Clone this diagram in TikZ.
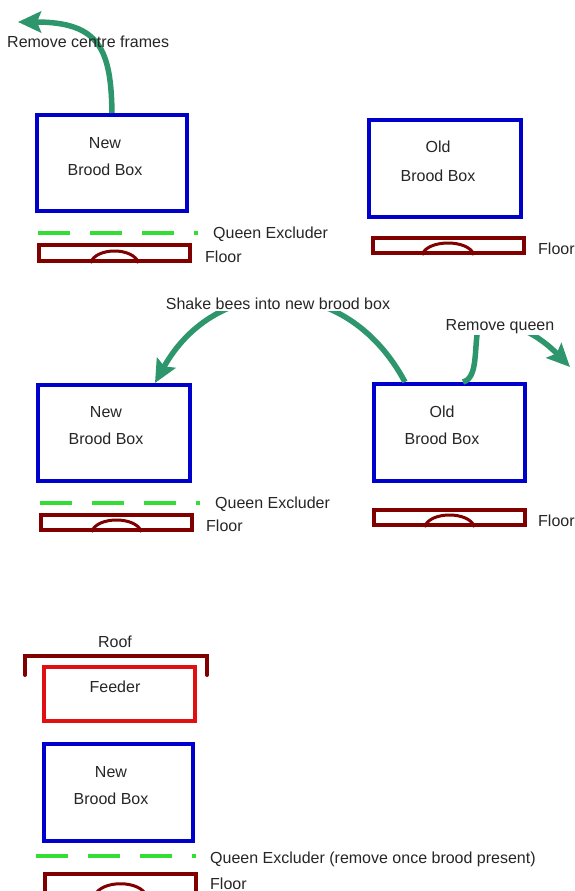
\documentclass[tikz,border=0pt]{standalone}
\usepackage{fontspec}
\setmainfont{Liberation Sans}
\usetikzlibrary{arrows.meta,calc}
\definecolor{boxblue}{RGB}{0,0,204}
\definecolor{floorred}{RGB}{128,0,0}
\definecolor{feedred}{RGB}{224,16,16}
\definecolor{qegreen}{RGB}{51,221,51}
\definecolor{arrgreen}{RGB}{46,150,108}
\begin{document}
\begin{tikzpicture}[x=1pt,y=-1pt,
  lbl/.style={font=\fontsize{16}{19}\selectfont, inner sep=0pt, text=black!85},
  whitelbl/.style={lbl, fill=white, inner sep=2pt},
  broodbox/.style={draw=boxblue, line width=4pt, inner sep=0pt},
  feederbox/.style={draw=feedred, line width=4pt, inner sep=0pt},
  floorbox/.style={draw=floorred, line width=4pt, inner sep=0pt, minimum width=151pt, minimum height=16pt},
  archline/.style={draw=floorred, line width=3pt},
  roofline/.style={draw=floorred, line width=4pt, line cap=round},
  qeline/.style={draw=qegreen, line width=4pt, dash pattern=on 32pt off 20pt},
  arr/.style={draw=arrgreen, line width=5.5pt, -{Stealth[length=23pt,width=21pt,inset=4pt]}},
]
\useasboundingbox (0,0) rectangle (575,891);
\fill[white] (0,0) rectangle (575,891);

% ---------- Section 1 ----------
\node[broodbox, minimum width=150pt, minimum height=96pt] (b1new) at (112,163) {};
\node[broodbox, minimum width=152pt, minimum height=97pt] (b1old) at (445,168.5) {};
\node[floorbox, minimum height=16pt] (f1new) at (114.5,253) {};
\node[floorbox, minimum height=15pt] (f1old) at (448,245.5) {};
\draw[archline] ($(f1new.south)+(-24,0)$) .. controls +(5,-16) and +(-5,-16) .. ++(48,0);
\draw[archline] ($(f1old.south)+(-26,0)$) .. controls +(5,-16) and +(-5,-16) .. ++(52,0);
\draw[qeline] (38,233) -- (198,233);

\coordinate (rcf) at (18,22);
\draw[arr] (b1new.north) .. controls (111,50) and (100,22) .. (rcf);
\node[lbl, anchor=base west] (t1rm) at (7,48) {Remove centre frames};

\node[lbl, anchor=base] (t1new) at (105,148) {New};
\node[lbl, anchor=base] (t1nbb) at (105,175) {Brood Box};
\node[lbl, anchor=base] (t1old) at (438,152) {Old};
\node[lbl, anchor=base] (t1obb) at (438,181) {Brood Box};
\node[lbl, anchor=base west] (t1qe) at (213,238) {Queen Excluder};
\node[lbl, anchor=base west] (t1fl) at (205,262) {Floor};
\node[lbl, anchor=base west] (t1flo) at (538,254) {Floor};

% ---------- Section 2 ----------
\node[broodbox, minimum width=152pt, minimum height=96pt] (b2new) at (114,433) {};
\node[broodbox, minimum width=151pt, minimum height=97pt] (b2old) at (449.5,432.5) {};
\node[floorbox, minimum height=15pt] (f2new) at (116.5,522.5) {};
\node[floorbox, minimum height=15pt] (f2old) at (449.5,517.5) {};
\draw[archline] ($(f2new.south)+(-25,0)$) .. controls +(5,-16) and +(-5,-16) .. ++(50,0);
\draw[archline] ($(f2old.south)+(-25,0)$) .. controls +(5,-16) and +(-5,-16) .. ++(50,0);
\draw[qeline] (40,503) -- (200,503);

\draw[arr] ([xshift=-44.5pt]b2old.north) .. controls (345,270) and (215,275) .. ([xshift=41pt]b2new.north);
\coordinate (rq) at (570,367);
\draw[arr] ([xshift=13.5pt]b2old.north) .. controls (478,378) and (474,350) .. (478,328)
  .. controls (480,318) and (522,318) .. (rq);
\node[whitelbl, anchor=base] (t2sh) at (278,309) {Shake bees into new brood box};
\node[whitelbl, anchor=base] (t2rq) at (500,330) {Remove queen};

\node[lbl, anchor=base] (t2new) at (106,417) {New};
\node[lbl, anchor=base] (t2nbb) at (106,444) {Brood Box};
\node[lbl, anchor=base] (t2old) at (442,417) {Old};
\node[lbl, anchor=base] (t2obb) at (442,444) {Brood Box};
\node[lbl, anchor=base west] (t2qe) at (215,508) {Queen Excluder};
\node[lbl, anchor=base west] (t2fl) at (206,531) {Floor};
\node[lbl, anchor=base west] (t2flo) at (538,526) {Floor};

% ---------- Section 3 ----------
\draw[roofline] (25,675) -- (25,656) -- (207,656) -- (207,675);
\node[lbl, anchor=base] (t3roof) at (115,647) {Roof};
\node[feederbox, minimum width=151pt, minimum height=54pt] (feed) at (119.5,694) {};
\node[lbl, anchor=base] (t3feed) at (115,692) {Feeder};
\node[broodbox, minimum width=149pt, minimum height=97pt] (b3new) at (118.5,792.5) {};
\node[floorbox, minimum height=21pt] (f3new) at (120.5,884) {};
\draw[archline] ($(f3new.south)+(-26,0)$) .. controls +(5,-17) and +(-5,-17) .. ++(52,0);
\draw[qeline] (36,856) -- (196,856);

\node[lbl, anchor=base] (t3new) at (111,777) {New};
\node[lbl, anchor=base] (t3nbb) at (111,804) {Brood Box};
\node[lbl, anchor=base west] (t3qe) at (210,863) {Queen Excluder (remove once brood present)};
\node[lbl, anchor=base west] (t3fl) at (210,889) {Floor};
\end{tikzpicture}
\end{document}
